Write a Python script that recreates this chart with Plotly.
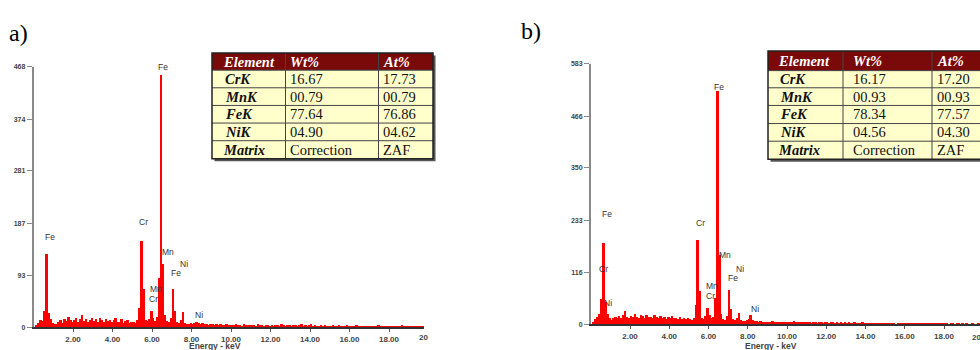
import numpy as np
import plotly.graph_objects as go

W, H = 980, 350

# ---------------- data ----------------
energy_kev = np.round(np.arange(0.05, 20.0, 0.1), 2)  # bin centres (keV)

counts_a = [
    0, 4, 8, 14, 12, 30, 132, 26, 15, 8,
    7, 6, 10, 14, 9, 16, 12, 20, 14, 11,
    13, 17, 10, 15, 22, 12, 16, 11, 14, 18,
    12, 15, 10, 17, 13, 11, 16, 12, 14, 10,
    13, 18, 11, 10, 15, 9, 12, 14, 8, 11,
    10, 9, 14, 35, 155, 70, 14, 12, 15, 30,
    18, 12, 20, 90, 454, 115, 22, 12, 10, 18,
    69, 30, 10, 9, 14, 28, 9, 7, 6, 8,
    7, 9, 11, 8, 7, 8, 6, 7, 5, 6,
    6, 5, 7, 5, 6, 4, 5, 7, 4, 5,
    5, 4, 6, 4, 5, 3, 6, 4, 5, 4,
    4, 5, 3, 6, 4, 5, 3, 4, 5, 3,
    4, 3, 5, 4, 3, 6, 4, 3, 4, 5,
    3, 4, 5, 3, 4, 6, 3, 4, 3, 5,
    6, 3, 4, 3, 2, 4, 3, 4, 2, 3,
    3, 4, 2, 3, 4, 2, 3, 2, 4, 3,
    2, 3, 2, 4, 2, 3, 2, 3, 2, 3,
    3, 2, 3, 2, 4, 2, 3, 2, 2, 3,
    2, 3, 2, 2, 3, 2, 4, 2, 2, 3,
    2, 2, 3, 2, 2, 3, 2, 2, 3, 2,
]

counts_b = [
    0, 5, 12, 18, 25, 58, 182, 50, 25, 14,
    10, 14, 18, 16, 20, 15, 22, 30, 18, 16,
    20, 17, 24, 18, 15, 22, 19, 16, 21, 17,
    18, 15, 21, 17, 14, 20, 16, 18, 13, 17,
    15, 19, 14, 16, 12, 17, 13, 15, 12, 14,
    13, 11, 16, 45, 190, 75, 16, 13, 20, 37,
    22, 14, 18, 60, 523, 155, 25, 12, 11, 20,
    77, 35, 12, 10, 14, 26, 11, 9, 8, 10,
    12, 22, 10, 8, 9, 7, 8, 6, 7, 6,
    7, 6, 8, 5, 6, 7, 5, 6, 5, 6,
    6, 7, 5, 8, 6, 5, 7, 6, 5, 6,
    5, 6, 4, 6, 5, 4, 6, 5, 4, 5,
    5, 4, 6, 5, 4, 5, 4, 6, 4, 5,
    4, 5, 4, 3, 5, 4, 3, 4, 5, 3,
    4, 3, 4, 2, 3, 4, 2, 3, 2, 3,
    2, 3, 2, 3, 2, 1, 2, 3, 2, 2,
    3, 2, 4, 2, 3, 2, 3, 2, 3, 2,
    2, 3, 2, 2, 3, 2, 2, 3, 2, 2,
    2, 2, 1, 2, 2, 1, 2, 3, 1, 2,
    1, 2, 1, 1, 2, 1, 1, 2, 1, 1,
]

xtick_vals = [2, 4, 6, 8, 10, 12, 14, 16, 18]
xtick_text = ["2.00", "4.00", "6.00", "8.00", "10.00", "12.00", "14.00", "16.00", "18.00"]
ytick_a = [0, 93, 187, 281, 374, 468]
ytick_b = [0, 116, 233, 350, 466, 583]

# peak labels: (text, energy keV, counts)
peaks_a = [("Fe", 0.82, 162), ("Cr", 5.59, 190), ("Fe", 6.56, 468), ("Mn", 6.82, 135),
           ("Ni", 7.63, 114), ("Fe", 7.23, 97), ("Mn", 6.2, 69), ("Cr", 6.1, 51), ("Ni", 8.4, 23)]
peaks_b = [("Fe", 0.83, 247), ("Cr", 0.67, 123), ("Ni", 0.88, 48), ("Cr", 5.58, 226),
           ("Fe", 6.56, 530), ("Mn", 6.82, 155), ("Ni", 7.6, 125), ("Fe", 7.23, 103),
           ("Mn", 6.2, 85), ("Cr", 6.1, 64), ("Ni", 8.37, 35)]

headers = ["Element", "Wt%", "At%"]
elements = ["CrK", "MnK", "FeK", "NiK", "Matrix"]
wt_a = ["16.67", "00.79", "77.64", "04.90", "Correction"]
at_a = ["17.73", "00.79", "76.86", "04.62", "ZAF"]
wt_b = ["16.17", "00.93", "78.34", "04.56", "Correction"]
at_b = ["17.20", "00.93", "77.57", "04.30", "ZAF"]


def px(x):
    return x / W


def py(y):
    return 1 - y / H


fig = go.Figure()
fig.add_trace(go.Bar(x=energy_kev, y=counts_a, width=0.1, marker=dict(color="#ff0000", line=dict(width=0)),
                     xaxis="x", yaxis="y", showlegend=False, hoverinfo="skip"))
fig.add_trace(go.Bar(x=energy_kev, y=counts_b, width=0.1, marker=dict(color="#ff0000", line=dict(width=0)),
                     xaxis="x2", yaxis="y2", showlegend=False, hoverinfo="skip"))

tickfont_x = dict(family="Liberation Sans", size=8, color="#444", weight="bold")
tickfont_y = dict(family="Liberation Sans", size=7, color="#444", weight="bold")


def xax(dom, rng, anchor):
    return dict(domain=dom, range=rng, anchor=anchor, showline=True, linecolor="#333", linewidth=2,
                ticks="outside", ticklen=3, tickcolor="#555", tickvals=xtick_vals, ticktext=xtick_text,
                tickfont=tickfont_x, showgrid=False, zeroline=False, fixedrange=True)


def yax(dom, rng, anchor, tv):
    return dict(domain=dom, range=rng, anchor=anchor, showline=True, linecolor="#888", linewidth=1.5,
                ticks="outside", ticklen=5, tickcolor="#888", tickvals=tv, ticktext=[str(v) for v in tv],
                tickfont=tickfont_y, showgrid=False, zeroline=False, fixedrange=True)


slope_a = 19.75
slope_b = 19.625
fig.update_layout(
    width=W, height=H, margin=dict(l=0, r=0, t=0, b=0),
    paper_bgcolor="white", plot_bgcolor="white",
    xaxis=xax([px(33.5), px(424)], [0, (424 - 33.5) / slope_a], "y"),
    yaxis=yax([20 / H, 286 / H], [0, 468], "x", ytick_a),
    xaxis2=xax([px(590.75), 1.0], [0, (980 - 590.75) / slope_b], "y2"),
    yaxis2=yax([23 / H, 289 / H], [0, 583], "x2", ytick_b),
    bargap=0,
)

annotations = []
lblfont = dict(family="Liberation Sans", size=8.5, color="#333")
for t, x, y in peaks_a:
    annotations.append(dict(text=t, x=x, y=y, xref="x", yref="y", showarrow=False, font=lblfont))
for t, x, y in peaks_b:
    annotations.append(dict(text=t, x=x, y=y, xref="x2", yref="y2", showarrow=False, font=lblfont))

# truncated last tick labels and axis titles
annotations.append(dict(text="<b>20</b>", x=px(417), y=py(340), xref="paper", yref="paper", xanchor="left",
                        yanchor="middle", showarrow=False, font=dict(family="Liberation Sans", size=8, color="#444")))
annotations.append(dict(text="<b>20.00</b>", x=px(983), y=py(340), xref="paper", yref="paper", xanchor="center",
                        yanchor="middle", showarrow=False, font=dict(family="Liberation Sans", size=8, color="#444")))
for cx in (215, 771):
    annotations.append(dict(text="<b>Energy - keV</b>", x=px(cx), y=py(349), xref="paper", yref="paper",
                            xanchor="center", yanchor="middle", showarrow=False,
                            font=dict(family="Liberation Sans", size=8.5, color="#444")))

# panel letters
annotations.append(dict(text="a)", x=px(7), y=py(30), xref="paper", yref="paper", xanchor="left", yanchor="middle",
                        showarrow=False, font=dict(family="Liberation Serif", size=24, color="black")))
annotations.append(dict(text="b)", x=px(519), y=py(28), xref="paper", yref="paper", xanchor="left", yanchor="middle",
                        showarrow=False, font=dict(family="Liberation Serif", size=24, color="black")))

shapes = []


def table(xs, ys, pads, wt, at):
    # shadow
    shapes.append(dict(type="rect", xref="paper", yref="paper", x0=px(xs[0] + 2.5), x1=px(xs[-1] + 2.5),
                       y0=py(ys[-1] + 2.5), y1=py(ys[0] + 2.5), fillcolor="#555", line=dict(width=0), layer="above"))
    # header fill
    shapes.append(dict(type="rect", xref="paper", yref="paper", x0=px(xs[0]), x1=px(xs[-1]),
                       y0=py(ys[1]), y1=py(ys[0]), fillcolor="#7a0a0a", line=dict(width=0), layer="above"))
    shapes.append(dict(type="rect", xref="paper", yref="paper", x0=px(xs[0]), x1=px(xs[-1]),
                       y0=py(ys[-1]), y1=py(ys[1]), fillcolor="#ffffcc", line=dict(width=0), layer="above"))
    for y in ys[1:-1]:
        shapes.append(dict(type="line", xref="paper", yref="paper", x0=px(xs[0]), x1=px(xs[-1]),
                           y0=py(y), y1=py(y), line=dict(color="#444", width=1), layer="above"))
    for x in xs[1:-1]:
        shapes.append(dict(type="line", xref="paper", yref="paper", x0=px(x), x1=px(x),
                           y0=py(ys[-1]), y1=py(ys[0]), line=dict(color="#444", width=1), layer="above"))
    shapes.append(dict(type="rect", xref="paper", yref="paper", x0=px(xs[0]), x1=px(xs[-1]),
                       y0=py(ys[-1]), y1=py(ys[0]), line=dict(color="#222", width=1.5), layer="above"))
    serif = "Liberation Serif"
    for j, h in enumerate(headers):
        annotations.append(dict(text=f"<b><i>{h}</i></b>", x=px(xs[j] + pads[j]), y=py((ys[0] + ys[1]) / 2),
                                xref="paper", yref="paper", xanchor="left", yanchor="middle", showarrow=False,
                                font=dict(family=serif, size=14.5, color="white")))
    for i in range(len(elements)):
        yc = py((ys[i + 1] + ys[i + 2]) / 2)
        cells = [f"<b><i>{elements[i]}</i></b>", wt[i], at[i]]
        for j, c in enumerate(cells):
            extra = 2 if (j == 0 and elements[i] != "Matrix") else 0
            annotations.append(dict(text=c, x=px(xs[j] + pads[j] + extra), y=yc, xref="paper", yref="paper",
                                    xanchor="left", yanchor="middle", showarrow=False,
                                    font=dict(family=serif, size=14.5, color="#111")))


table([212, 285.5, 378.5, 433], [50, 67.5, 85.5, 103.5, 121.5, 139.5, 158], [9, 2, 2.5], wt_a, at_a)
table([768, 843, 932, 987], [48, 68, 85.5, 103.5, 122, 140, 158.5], [8, 8, 3], wt_b, at_b)

fig.update_layout(annotations=annotations, shapes=shapes)
fig.write_html(
    "out.html",
    config={"displayModeBar": False},
    post_script="document.body.style.margin='0';document.body.style.padding='0';"
                "document.body.style.overflow='hidden';",
)
